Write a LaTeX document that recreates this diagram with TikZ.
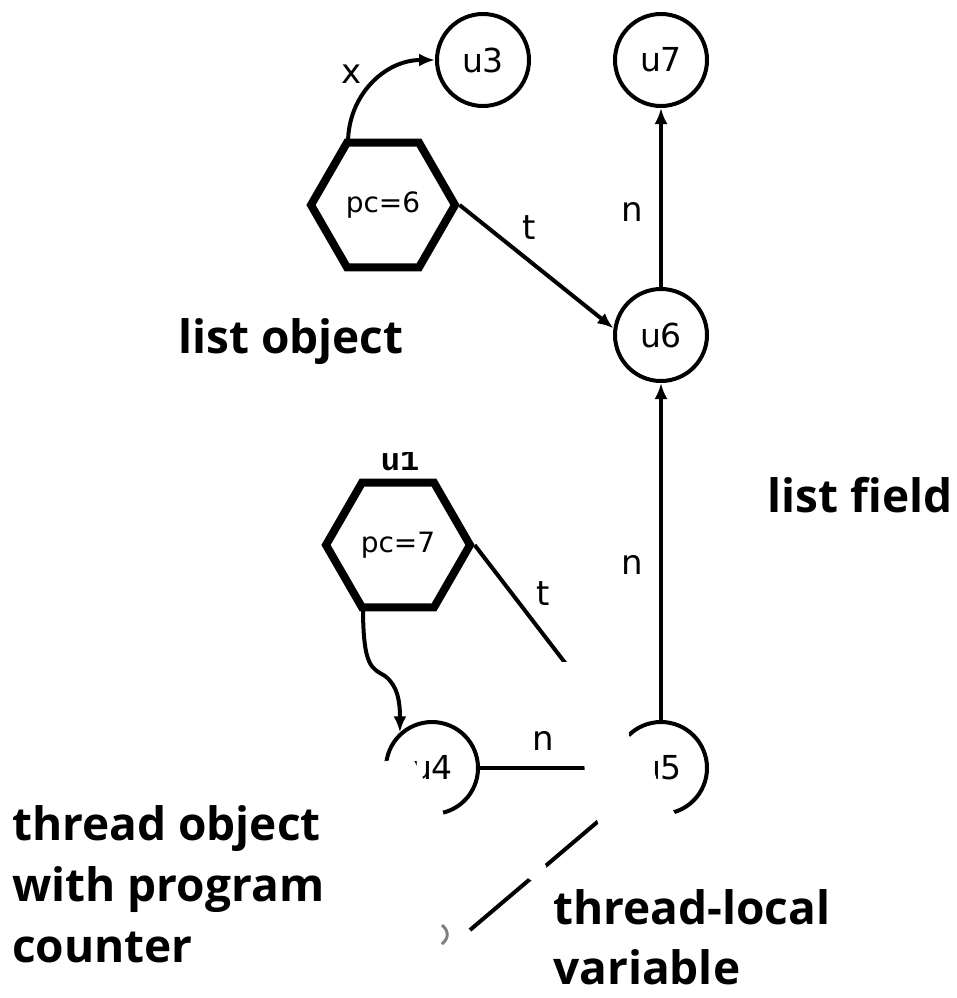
\documentclass[tikz,border=0pt]{standalone}
\usepackage{fontspec}
\setmainfont{DejaVu Sans}
\newfontfamily\callfont{Open Sans}
\newfontfamily\idfont{Liberation Mono}
\usetikzlibrary{shapes.geometric,arrows.meta,calc}
\begin{document}
\begin{tikzpicture}[x=1pt,y=-1pt,
  every node/.style={inner sep=0pt},
  vert/.style={circle,draw,line width=4pt,minimum size=92pt,font=\fontsize{33}{40}\selectfont},
  hexa/.style={regular polygon,regular polygon sides=6,draw,line width=8pt,minimum size=144pt,font=\fontsize{28}{34}\selectfont},
  edge/.style={line width=4pt,-{Latex[length=16pt,width=13pt]}},
  plain/.style={line width=4pt},
  elab/.style={font=\fontsize{34}{40}\selectfont},
  call/.style={font=\callfont\bfseries\fontsize{46}{61}\selectfont,align=left},
  mask/.style={fill=white,draw=none}
]
\fill[white] (0,0) rectangle (957,998);
\useasboundingbox (0,0) rectangle (957,998);

% vertices
\node[vert] (u3) at (483,60) {u3};
\node[vert] (u7) at (661,60) {u7};
\node[vert] (u6) at (661,335) {u6};
\node[vert] (u4) at (432,768) {u4};
\node[vert] (u5) at (661,768) {u5};
\node[hexa] (p6) at (383,205) {pc=6};
\node[hexa] (p7) at (398,545) {pc=7};
\node[font=\idfont\bfseries\fontsize{32}{38}\selectfont] (u1) at (400,460) {u1};
\coordinate (vend) at (470,930);

% connectors
\draw[edge] ($(p6.center)+(-35,-62)$) .. controls (348,95) and (385,60) .. (u3.west);
\draw[edge] (p6.east) -- (u6.172);
\draw[edge] (u6) -- (u7);
\draw[edge] (u5) -- (u6);
\draw[edge] (p7.east) -- (u5.142);
\draw[edge] ($(p7.center)+(-35,62)$) .. controls (363,668) and (372,668) .. (385,676)
   .. controls (398,686) and (400,702) .. (u4.132);
\draw[edge] (u4) -- (u5);
\draw[plain] (vend) -- (u5);
\draw[line width=3pt,gray] (442,925) .. controls (449,931) and (449,938) .. (442,944);

% edge labels
\node[elab] (lx) at (352,74) {x};
\node[elab] (lt1) at (529,228) {t};
\node[elab] (ln1) at (632,212) {n};
\node[elab] (ln2) at (632,565) {n};
\node[elab] (lt2) at (543,594) {t};
\node[elab] (ln3) at (543,741) {n};

% erased regions
\fill[mask] (370,764) -- (392,760) -- (410,753) -- (419,770) -- (431,795) -- (443,812) -- (448,838) -- (370,838) -- cycle;
\fill[mask] (548,662) -- (592,662) -- (627,714) -- (629,736) -- (648,752) -- (654,770) -- (660,792) -- (674,812) -- (690,845) -- (600,828) -- (586,790) -- (584,760) -- (570,700) -- cycle;
\fill[mask] (536,870.5) circle[radius=11];
\fill[mask] (370,430) rectangle (430,452);

% callout texts
\node[call,anchor=base west] (lo) at (178,353) {list object};
\node[call,anchor=base east] (lf) at (953,512) {list field};
\node[call,anchor=base west] (to) at (12,962) {thread object\\with program\\counter};
\node[call,anchor=base west,font=\callfont\bfseries\fontsize{46}{60}\selectfont] (tl) at (553,984) {thread-local\\variable};
\end{tikzpicture}
\end{document}
